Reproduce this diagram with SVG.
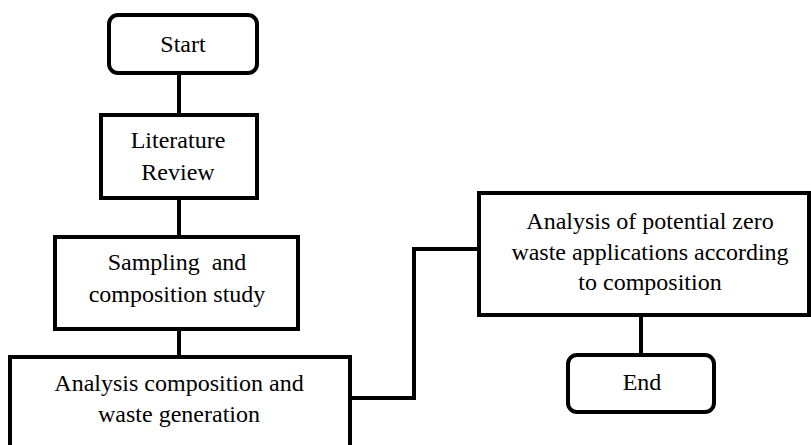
<svg xmlns="http://www.w3.org/2000/svg" width="811" height="445" viewBox="0 0 811 445">
<style>
.b{fill:#fff;stroke:#000;stroke-width:4}
.c{fill:none;stroke:#000;stroke-width:4}
text{font-family:"Liberation Serif","Times New Roman",serif;font-size:24px;fill:#000;text-anchor:middle;white-space:pre}
</style>
<rect width="811" height="445" fill="#fff"/>
<g id="connectors">
<line class="c" x1="179" y1="73" x2="179" y2="115"/>
<line class="c" x1="179" y1="198" x2="179" y2="237"/>
<line class="c" x1="179" y1="329" x2="179" y2="357"/>
<polyline class="c" points="350,398 414,398 414,249 479,249"/>
<line class="c" x1="641" y1="315" x2="641" y2="355"/>
</g>
<g id="start">
<rect class="b" x="109" y="15" width="148" height="58" rx="9"/>
<text x="183" y="52">Start</text>
</g>
<g id="literature">
<rect class="b" x="101" y="115" width="156" height="83"/>
<text x="178" y="148">Literature</text>
<text x="178" y="180">Review</text>
</g>
<g id="sampling">
<rect class="b" x="55" y="237" width="243" height="92"/>
<text x="177" y="270" xml:space="preserve">Sampling  and</text>
<text x="177" y="302">composition study</text>
</g>
<g id="analysis">
<rect class="b" x="10" y="357" width="340" height="110"/>
<text x="179" y="391">Analysis composition and</text>
<text x="179" y="422">waste generation</text>
</g>
<g id="potential">
<rect class="b" x="479" y="193" width="330" height="122"/>
<text x="650" y="229">Analysis of potential zero</text>
<text x="650" y="260">waste applications according</text>
<text x="650" y="290">to composition</text>
</g>
<g id="end">
<rect class="b" x="568" y="355" width="146" height="57" rx="9"/>
<text x="642" y="390">End</text>
</g>
</svg>
